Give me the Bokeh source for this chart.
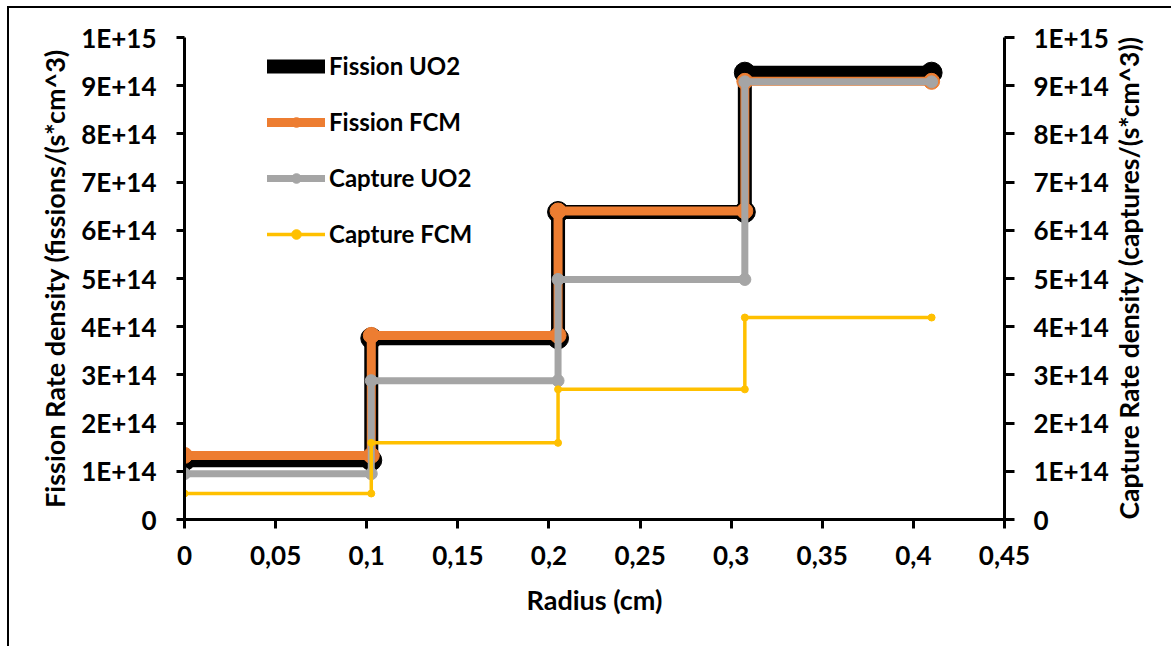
import math

from bokeh.plotting import figure
from bokeh.models import Range1d, LinearAxis, FixedTicker, Legend, LegendItem
from bokeh.embed import file_html
from bokeh.resources import INLINE

# Radial positions (cm) of the region boundaries; every value is repeated so the
# profile is drawn as a staircase, one flat step per fuel ring.
radius_cm = [0, 0.1025, 0.1025, 0.205, 0.205, 0.3075, 0.3075, 0.41]

# Reaction rate densities per ring
fission_uo2 = [1.23e14, 1.23e14, 3.76e14, 3.76e14, 6.38e14, 6.38e14, 9.27e14, 9.27e14]
fission_fcm = [1.33e14, 1.33e14, 3.82e14, 3.82e14, 6.40e14, 6.40e14, 9.09e14, 9.09e14]
capture_uo2 = [0.95e14, 0.95e14, 2.88e14, 2.88e14, 4.98e14, 4.98e14, 9.08e14, 9.08e14]
capture_fcm = [0.54e14, 0.54e14, 1.59e14, 1.59e14, 2.70e14, 2.70e14, 4.19e14, 4.19e14]

series_names = ["Fission UO2", "Fission FCM", "Capture UO2", "Capture FCM"]

x_ticks = [0, 0.05, 0.1, 0.15, 0.2, 0.25, 0.3, 0.35, 0.4, 0.45]
x_tick_labels = ["0", "0,05", "0,1", "0,15", "0,2", "0,25", "0,3", "0,35", "0,4", "0,45"]
y_ticks = [0, 1e14, 2e14, 3e14, 4e14, 5e14, 6e14, 7e14, 8e14, 9e14, 1e15]
y_tick_labels = ["0", "1E+14", "2E+14", "3E+14", "4E+14", "5E+14",
                 "6E+14", "7E+14", "8E+14", "9E+14", "1E+15"]

FONT = "Lato"
TICK_SIZE = "26px"
TITLE_SIZE = "27px"
LEGEND_SIZE = "24px"

p = figure(
    width=1164, height=640,
    x_range=Range1d(0, 0.45), y_range=Range1d(0, 1e15),
    output_backend="svg", toolbar_location=None,
    min_border_left=175, min_border_right=169, min_border_top=29, min_border_bottom=129,
)
p.margin = (6, 0, 0, 7)
p.styles = {"border-left": "2px solid black", "border-top": "2px solid black"}
p.outline_line_color = None
p.xgrid.visible = False
p.ygrid.visible = False
p.background_fill_color = "white"
p.border_fill_color = "white"

p.extra_y_ranges = {"capture": Range1d(0, 1e15)}
right_axis = LinearAxis(y_range_name="capture")
p.add_layout(right_axis, "right")


def style_axis(ax, tick_out, standoff):
    ax.axis_line_color = "black"
    ax.axis_line_width = 3
    ax.major_tick_line_color = "black"
    ax.major_tick_line_width = 3
    ax.major_tick_in = 0
    ax.major_tick_out = tick_out
    ax.minor_tick_line_color = None
    ax.major_label_text_font = FONT
    ax.major_label_text_font_style = "bold"
    ax.major_label_text_font_size = TICK_SIZE
    ax.major_label_text_color = "black"
    ax.major_label_standoff = standoff
    ax.axis_label_text_font = FONT
    ax.axis_label_text_font_style = "bold"
    ax.axis_label_text_font_size = TITLE_SIZE
    ax.axis_label_text_color = "black"


xaxis = p.xaxis[0]
yaxis = p.yaxis[0]

xaxis.ticker = FixedTicker(ticks=x_ticks)
xaxis.major_label_overrides = dict(zip(x_ticks, x_tick_labels))
xaxis.axis_label = "Radius (cm)"
style_axis(xaxis, 9, 17)
xaxis.axis_label_standoff = 15

for ax in (yaxis, right_axis):
    ax.ticker = FixedTicker(ticks=y_ticks)
    ax.major_label_overrides = dict(zip(y_ticks, y_tick_labels))

yaxis.axis_label = "Fission Rate density (fissions/(s*cm^3)"
style_axis(yaxis, 8, 20)
yaxis.axis_label_standoff = 7

# Secondary-axis title reads bottom-to-top, like the primary one
right_axis.axis_label = "Capture Rate density (captures/(s*cm^3))"
style_axis(right_axis, 10, 19)
right_axis.axis_label_text_font_size = "26.5px"
right_axis.axis_label_orientation = math.pi / 2
if "axis_label_align" in right_axis.properties():
    right_axis.axis_label_align = "start"
right_axis.axis_label_standoff = 17

# values, colour, line width, marker size, y range
styles = [
    (fission_uo2, "#000000", 14, 21, "default"),
    (fission_fcm, "#ED7D31", 9, 16, "default"),
    (capture_uo2, "#A5A5A5", 7, 12, "capture"),
    (capture_fcm, "#FFC000", 3.5, 7, "capture"),
]

items = []
for name, (vals, color, lw, ms, rng) in zip(series_names, styles):
    ln = p.line(radius_cm, vals, line_color=color, line_width=lw,
                line_join="round", line_cap="round", y_range_name=rng)
    sc = p.scatter(radius_cm, vals, marker="circle", size=ms, fill_color=color,
                   line_color=color, y_range_name=rng)
    items.append(LegendItem(label=name, renderers=[ln, sc]))

legend = Legend(
    items=items,
    location=(83, 271),
    orientation="vertical",
    glyph_width=58, glyph_height=24,
    label_height=24, label_standoff=4,
    spacing=27, padding=0, margin=0,
    border_line_color=None, background_fill_alpha=0,
    label_text_font=FONT, label_text_font_style="bold",
    label_text_font_size=LEGEND_SIZE, label_text_color="black",
)
p.add_layout(legend, "center")

open("out.html", "w").write(file_html(p, INLINE))
